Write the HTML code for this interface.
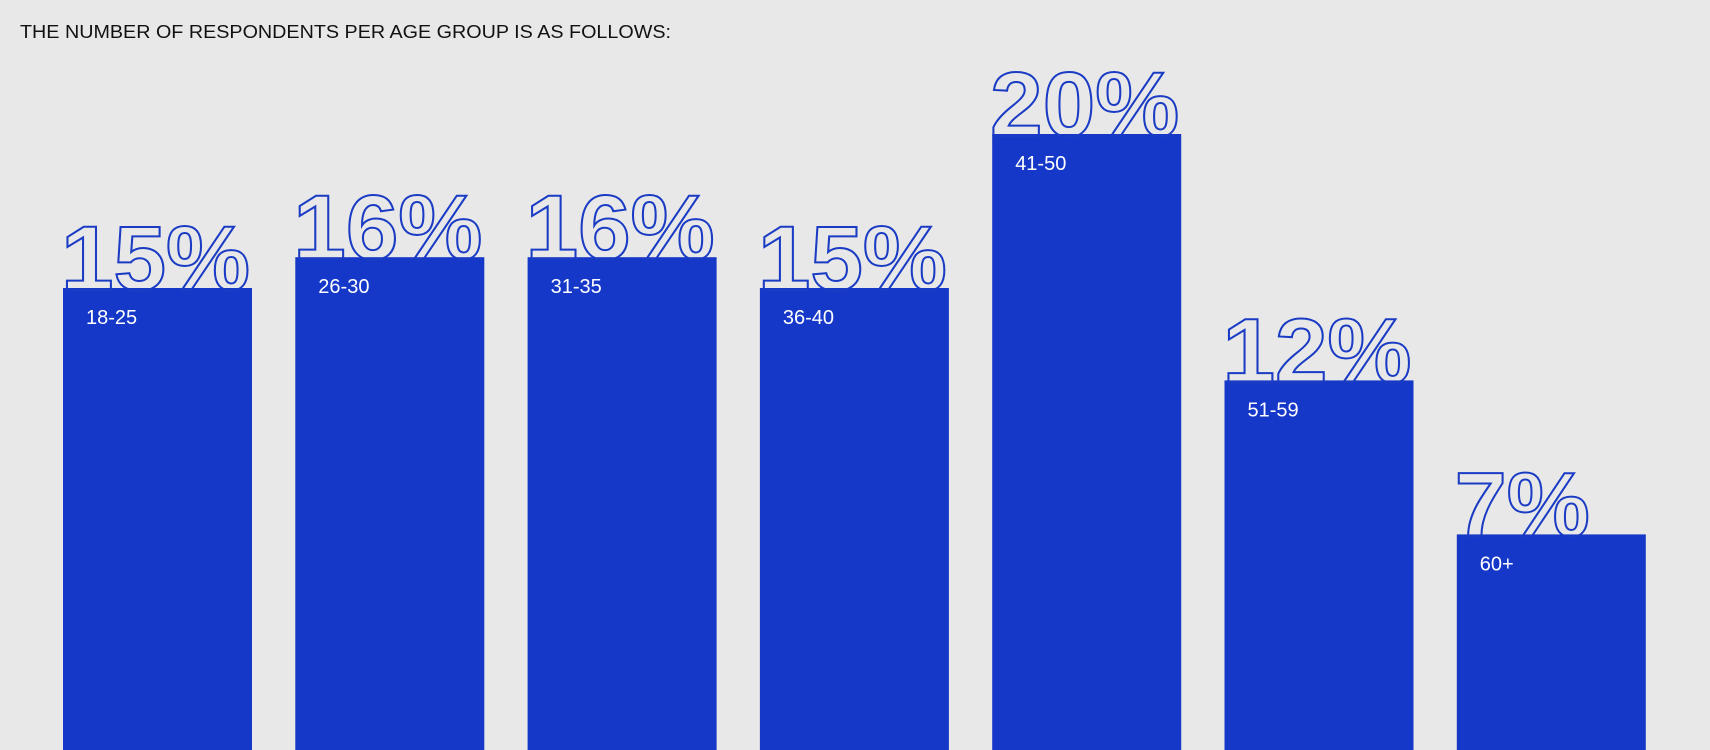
<!DOCTYPE html>
<html><head><meta charset="utf-8"><style>
html,body{margin:0;padding:0;background:#e8e8e8;}
svg{display:block;}
</style></head><body>
<svg id="chart" width="1710" height="750" viewBox="0 0 1710 750">
<rect x="0" y="0" width="1710" height="750" fill="#e8e8e8"/>
<text x="20" y="38" font-family="Liberation Sans, sans-serif" font-size="18" fill="#111" textLength="651" lengthAdjust="spacingAndGlyphs">THE NUMBER OF RESPONDENTS PER AGE GROUP IS AS FOLLOWS:</text>
<g id="bars"></g>
</svg>
<script>
const categories = ["18-25","26-30","31-35","36-40","41-50","51-59","60+"];
const values = [15,16,16,15,20,12,7];
const valueLabels = ["15%","16%","16%","15%","20%","12%","7%"];

const svgNS = "http://www.w3.org/2000/svg";
const g = document.getElementById("bars");
const x0 = 63, step = 232.3, barW = 189;
const baseY = 750, pxPerUnit = 30.8;
function xPos(i){ return x0 + i*step; }
function yPos(v){ return baseY - v*pxPerUnit; }

categories.forEach((c,i)=>{
  const x = xPos(i), y = yPos(values[i]);
  const r = document.createElementNS(svgNS,"rect");
  r.setAttribute("x",x); r.setAttribute("y",y);
  r.setAttribute("width",barW); r.setAttribute("height",baseY-y);
  r.setAttribute("fill","#1638c8");
  
  
  g.appendChild(r);

  const t = document.createElementNS(svgNS,"text");
  t.setAttribute("x",x-2); t.setAttribute("y",y+2);
  t.setAttribute("font-family","Liberation Sans, sans-serif");
  t.setAttribute("font-weight","bold");
  t.setAttribute("font-size","92");
  t.setAttribute("fill","none");
  t.setAttribute("stroke","#1a3bc4");
  t.setAttribute("stroke-width","2");
  t.setAttribute("textLength","189");
  t.setAttribute("lengthAdjust","spacingAndGlyphs");
  if (valueLabels[i].length===2) t.setAttribute("textLength","135");
  t.textContent = valueLabels[i];
  
  
  g.appendChild(t);

  const l = document.createElementNS(svgNS,"text");
  l.setAttribute("x",x+23); l.setAttribute("y",y+36);
  l.setAttribute("font-family","Liberation Sans, sans-serif");
  l.setAttribute("font-size","20");
  l.setAttribute("fill","#ffffff");
  l.textContent = c;
  
  
  g.appendChild(l);
});
</script>
</body></html>
